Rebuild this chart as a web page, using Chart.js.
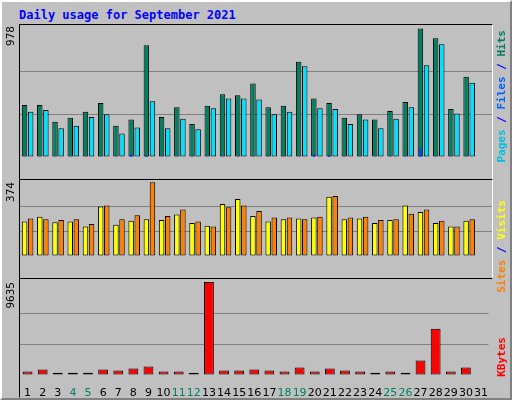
<!DOCTYPE html>
<html>
<head>
<meta charset="utf-8">
<script src="https://cdn.jsdelivr.net/npm/chart.js@4/dist/chart.umd.min.js"></script>
<style>
  body { margin: 0; background: #fff; }
  #frame { position: relative; width: 508px; height: 396px; background: #c0c0c0;
    border: 2px solid; border-color: #fff #808080 #808080 #fff; font-family: "DejaVu Sans Mono", monospace; }
  #title { position: absolute; left: 17px; top: 6px; color: #0000ff; font-weight: bold; font-size: 12px; }
  .panel { position: absolute; left: 17px; width: 472px; border: 1px solid; border-color: #000 #fff #fff #000; }
  .panel canvas { display: block; }
  #c1b { position: absolute; left: 0; top: 0; }
  .vlab { position: absolute; writing-mode: vertical-rl; transform: rotate(180deg); font-size: 11px; white-space: nowrap; }
</style>
</head>
<body>
<div id="frame">
  <div id="title">Daily usage for September 2021</div>
  <div class="panel" style="top:22px;height:154px"><canvas id="c1" width="472" height="154"></canvas><canvas id="c1b" width="472" height="154"></canvas></div>
  <div class="panel" style="top:177px;height:98px"><canvas id="c2" width="472" height="98"></canvas></div>
  <div class="panel" style="top:276px;height:118px;border-bottom-color:transparent;border-right-color:transparent"><canvas id="c3" width="472" height="118"></canvas></div>
  <div class="vlab" style="left:2px;top:24px;color:#000">978</div>
  <div class="vlab" style="left:2px;top:180px;color:#000">374</div>
  <div class="vlab" style="left:2px;top:280px;color:#000">9635</div>
  <div class="vlab" style="left:493px;top:28px;font-weight:bold"><span style="color:#00c0e0">Pages</span> <span style="color:#0000ff">/</span> <span style="color:#0060ff">Files</span> <span style="color:#0000ff">/</span> <span style="color:#008060">Hits</span></div>
  <div class="vlab" style="left:493px;top:198px;font-weight:bold"><span style="color:#ff8000">Sites</span> <span style="color:#0000ff">/</span> <span style="color:#ffff00">Visits</span></div>
  <div class="vlab" style="left:493px;top:335px;font-weight:bold;color:#ff0000">KBytes</div>
</div>
<script>
const days = Array.from({ length: 31 }, (_, i) => String(i + 1));
const weekends = ['4', '5', '11', '12', '18', '19', '25', '26'];

const hits = [396, 396, 269, 298, 345, 411, 238, 285, 851, 305, 378, 251, 391, 478, 471, 560, 378, 391, 725, 445, 411, 298, 325, 285, 351, 418, 978, 905, 365, 611, 0];
const files = [345, 358, 218, 238, 305, 325, 178, 225, 425, 218, 291, 211, 371, 445, 445, 438, 325, 345, 691, 371, 365, 251, 285, 218, 291, 378, 698, 858, 331, 565, 0];
const pages = [3, 3, 3, 3, 3, 3, 3, 24, 13, 3, 3, 3, 3, 3, 3, 3, 3, 3, 3, 24, 13, 3, 3, 3, 3, 3, 71, 3, 3, 3, 0];
const visits = [175, 199, 171, 175, 150, 252, 159, 179, 187, 183, 211, 167, 154, 264, 289, 203, 175, 187, 191, 195, 301, 187, 191, 167, 183, 256, 224, 167, 150, 179, 0];
const sites = [191, 187, 183, 187, 163, 256, 187, 207, 374, 203, 236, 175, 150, 248, 256, 228, 195, 195, 187, 199, 305, 195, 199, 183, 187, 215, 236, 179, 150, 187, 0];
const kbytes = [352, 563, 246, 246, 246, 563, 457, 668, 879, 352, 352, 246, 9635, 457, 457, 563, 457, 352, 774, 352, 668, 457, 352, 246, 352, 246, 1512, 4782, 352, 774, 0];

const bgPlugin = {
    id: 'bg',
    beforeDraw(chart) {
        if (chart.options.plugins.bg === false) return;
        const { ctx, chartArea: a } = chart;
        ctx.save();
        ctx.fillStyle = '#c0c0c0';
        ctx.fillRect(a.left, a.top, a.width, a.height);
        ctx.restore();
    },
};

function bar(data, color, extra) {
    return Object.assign({ data: data, backgroundColor: color, borderColor: '#000', borderWidth: 1, borderSkipped: false }, extra);
}

function makeChart(id, datasets, max, top, showX, overlay) {
    const scales = {
        y: {
            min: 0, max: max, display: !overlay,
            border: { display: false },
            ticks: { display: false },
            afterBuildTicks: (s) => { s.ticks = [0, top / 3, top * 2 / 3].map((v) => ({ value: v })); },
            grid: { color: (c) => (c.tick.value === 0 ? 'transparent' : '#808080'), drawTicks: false, lineWidth: 1 },
        },
        x: {
            display: showX,
            grid: { display: false },
            border: { display: false },
            categoryPercentage: 0.8,
            barPercentage: 1,
            ticks: {
                color: (c) => (weekends.includes(days[c.index]) ? '#008060' : '#000'),
                font: { family: 'DejaVu Sans', size: 11 },
                maxRotation: 0, autoSkip: false, padding: 4,
            },
            afterFit: (s) => { s.height = 22; },
        },
    };
    return new Chart(document.getElementById(id), {
        type: 'bar',
        data: { labels: days, datasets: datasets },
        options: {
            responsive: false, animation: false,
            layout: { padding: 0 },
            plugins: { legend: { display: false }, tooltip: { enabled: false }, bg: !overlay },
            scales: scales,
        },
        plugins: [bgPlugin],
    });
}

makeChart('c1', [
    bar(hits, '#008060'),
    bar(files, '#00e0ff'),
], 1005, 978, false, false);

// pages drawn inside the left part of the hits bar, on a transparent overlay
makeChart('c1b', [
    bar(pages, '#0040ff', { barPercentage: 0.35, borderWidth: 0 }),
    bar([], 'transparent'),
], 1005, 978, false, true);

makeChart('c2', [
    bar(visits, '#ffff00'),
    bar(sites, '#ff8000'),
], 386, 374, false, false);

makeChart('c3', [
    bar(kbytes, '#ff0000', { categoryPercentage: 0.65, barPercentage: 1 }),
], 9950, 9635, true, false);
</script>
</body>
</html>
